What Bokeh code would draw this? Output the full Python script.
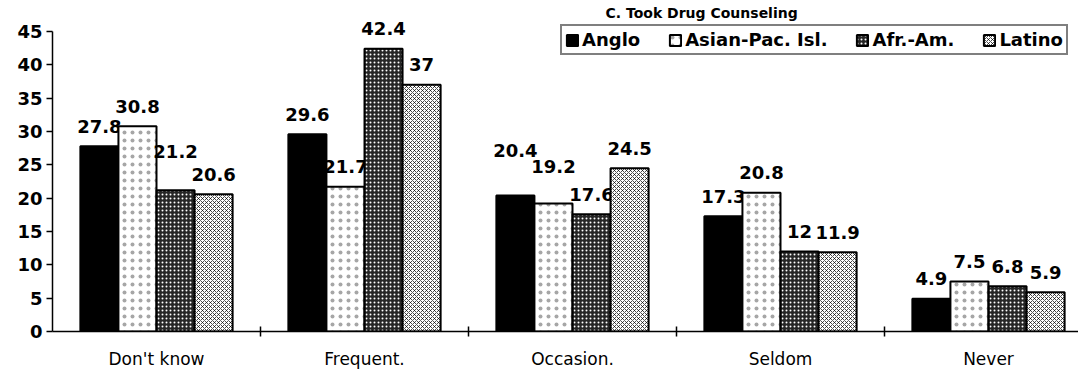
from bokeh.plotting import figure
from bokeh.models import ColumnDataSource, Range1d, FixedTicker, Label, Legend, LegendItem
from bokeh.embed import file_html
from bokeh.resources import INLINE
from bokeh.core.properties import value

# ---- data ----
categories = ["Don't know", "Frequent.", "Occasion.", "Seldom", "Never"]
series = ["Anglo", "Asian-Pac. Isl.", "Afr.-Am.", "Latino"]
anglo = [27.8, 29.6, 20.4, 17.3, 4.9]
asian_pac = [30.8, 21.7, 19.2, 20.8, 7.5]
afr_am = [21.2, 42.4, 17.6, 12, 6.8]
latino = [20.6, 37, 24.5, 11.9, 5.9]
y_ticks = [0, 5, 10, 15, 20, 25, 30, 35, 40, 45]
title_text = "C. Took Drug Counseling"

values = [anglo, asian_pac, afr_am, latino]

# ---- styling (not data) ----
FONT = value("DejaVu Sans")
bar_w = 0.183
base_gap = 20
extra_lift = {("Don't know", "Afr.-Am."): 19,
              ("Occasion.", "Anglo"): 25,
              ("Occasion.", "Asian-Pac. Isl."): 17}
styles = [
    dict(fill_color="black"),
    dict(fill_color="white", hatch_pattern="dot", hatch_color="black",
         hatch_scale=8, hatch_weight=0.5, hatch_alpha=0.35),
    dict(fill_color="#262626", hatch_pattern="dot", hatch_color="white",
         hatch_scale=4, hatch_weight=0.7),
    dict(fill_color="white", hatch_pattern="diagonal_cross", hatch_color="black",
         hatch_scale=4, hatch_weight=0.7),
]

n_cat = len(categories)
W, H = 1078, 371
LEFT, BOTTOM = 52, 40
p = figure(width=W, height=H, output_backend="svg", toolbar_location=None,
           x_range=Range1d(0, (W - LEFT) / 208.0), y_range=Range1d(0, 49.65),
           min_border_left=LEFT, min_border_right=0, min_border_top=0,
           min_border_bottom=BOTTOM)
p.outline_line_color = None
p.grid.visible = False
p.background_fill_color = "white"
p.border_fill_color = "white"

items = []
for i, (name, vals, st) in enumerate(zip(series, values, styles)):
    xs = [k + 0.5 + (i - 1.5) * bar_w for k in range(n_cat)]
    src = ColumnDataSource(dict(
        x=xs, top=vals,
        label=[f"{v:g}" for v in vals],
        yoff=[-(base_gap + extra_lift.get((c, name), 0)) for c in categories],
    ))
    r = p.vbar(x="x", top="top", width=bar_w, source=src,
               line_color="black", line_width=2, **st)
    p.text(x="x", y="top", text="label", y_offset="yoff", source=src,
           text_font=FONT, text_font_style="bold", text_font_size="18px",
           text_align="center", text_baseline="alphabetic", text_color="black")
    items.append(LegendItem(label=name, renderers=[r]))

# axes
xa = p.xaxis[0]
xa.ticker = FixedTicker(ticks=[k + 0.5 for k in range(n_cat)],
                        minor_ticks=list(range(1, n_cat)))
xa.major_label_overrides = {k + 0.5: c for k, c in enumerate(categories)}
xa.major_tick_line_color = None
xa.major_tick_in = 0
xa.major_tick_out = 0
xa.minor_tick_in = 5
xa.minor_tick_out = 5
xa.minor_tick_line_color = "black"
xa.minor_tick_line_width = 1.5
xa.axis_line_color = "black"
xa.axis_line_width = 1.5
xa.major_label_standoff = 12
xa.major_label_text_font = "DejaVu Sans"
xa.major_label_text_font_size = "17px"
xa.major_label_text_color = "black"

ya = p.yaxis[0]
ya.ticker = FixedTicker(ticks=y_ticks)
ya.bounds = (0, 45)
ya.minor_tick_line_color = None
ya.major_tick_in = 0
ya.major_tick_out = 6
ya.major_tick_line_color = "black"
ya.major_tick_line_width = 1.5
ya.axis_line_color = "black"
ya.axis_line_width = 1.5
ya.major_label_standoff = 4
ya.major_label_text_font = "DejaVu Sans"
ya.major_label_text_font_style = "bold"
ya.major_label_text_font_size = "18px"
ya.major_label_text_color = "black"

legend = Legend(items=items, orientation="horizontal", location=(508, 276),
                label_text_font="DejaVu Sans", label_text_font_style="bold",
                label_text_font_size="18px", label_text_color="black",
                glyph_width=14, glyph_height=14, label_standoff=3,
                spacing=28, padding=3, margin=0,
                border_line_color="black", border_line_width=2,
                background_fill_color="white", background_fill_alpha=1)
p.add_layout(legend)

title = Label(x=553, y=319, x_units="screen", y_units="screen", text=title_text,
              text_font="DejaVu Sans", text_font_style="bold", text_font_size="14px",
              text_baseline="alphabetic", text_color="black")
p.add_layout(title)

open("out.html", "w").write(file_html(p, INLINE))
